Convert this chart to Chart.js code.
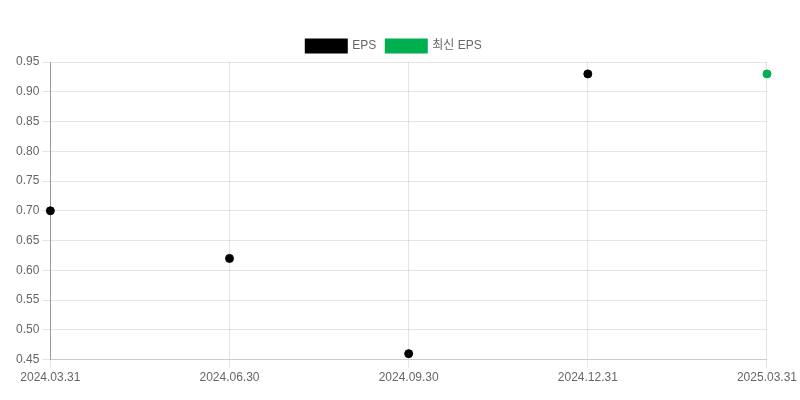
<!DOCTYPE html>
<html lang="ko">
<head>
  <meta charset="UTF-8" />
  <title>EPS</title>
  <style>
    body { margin: 0; background: #fff; }
    #wrap { width: 800px; height: 400px; }
  </style>
</head>
<body>
  <div id="wrap"><canvas id="chart"></canvas></div>
  <script src="https://cdn.jsdelivr.net/npm/chart.js"></script>
  <script>
    const labels = ['2024.03.31', '2024.06.30', '2024.09.30', '2024.12.31', '2025.03.31'];
    const epsValues = [0.70, 0.62, 0.46, 0.93, null];
    const latestEps = [null, null, null, null, 0.93];

    Chart.defaults.font.family = "'Liberation Sans', Arial, 'Noto Sans CJK KR', sans-serif";
    Chart.defaults.font.size = 12;
    Chart.defaults.color = '#666';

    new Chart(document.getElementById('chart'), {
      type: 'line',
      data: {
        labels: labels,
        datasets: [
          {
            label: 'EPS',
            data: epsValues,
            showLine: false,
            backgroundColor: '#000',
            borderColor: '#000',
            pointRadius: 4,
            pointHoverRadius: 5
          },
          {
            label: '최신 EPS',
            data: latestEps,
            showLine: false,
            backgroundColor: '#00b050',
            borderColor: '#00b050',
            pointRadius: 4,
            pointHoverRadius: 5
          }
        ]
      },
      options: {
        responsive: true,
        maintainAspectRatio: false,
        animation: false,
        layout: { padding: { top: 30, right: 25, left: 13, bottom: 12 } },
        plugins: {
          legend: {
            labels: { boxWidth: 40, boxHeight: 12 }
          },
          tooltip: { enabled: false }
        },
        scales: {
          x: {
            border: { color: '#ccc' },
            ticks: { maxRotation: 0 }
          },
          y: {
            min: 0.45,
            max: 0.95,
            border: { color: '#999' },
            ticks: {
              stepSize: 0.05,
              callback: v => v.toFixed(2)
            }
          }
        }
      }
    });
  </script>
</body>
</html>
